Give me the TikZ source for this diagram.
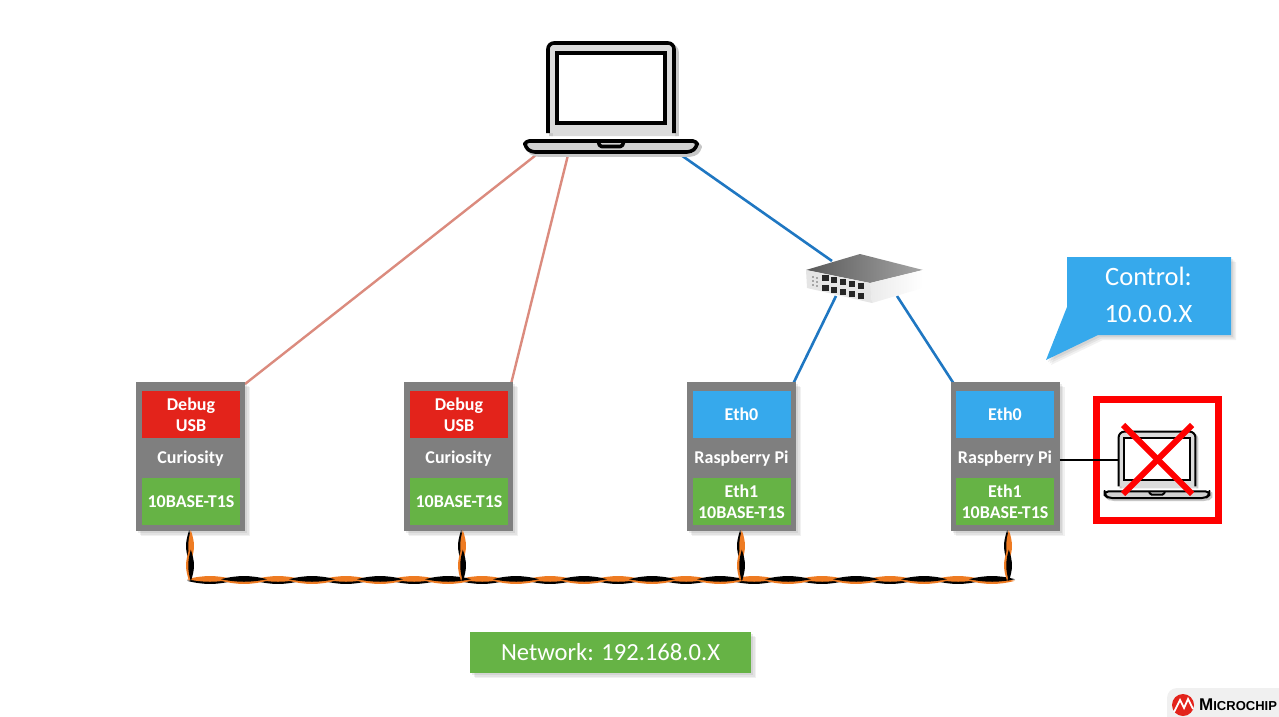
\documentclass[tikz,border=0pt]{standalone}
\usepackage{fontspec}
\setmainfont{Carlito}
\newfontfamily\logofont{Liberation Sans}
\usetikzlibrary{arrows.meta, positioning, shapes, shadows, calc, decorations.markings}

\definecolor{boardgray}{HTML}{7F7F7F}
\definecolor{usbred}{HTML}{E3231B}
\definecolor{ethblue}{HTML}{36A9EC}
\definecolor{phygreen}{HTML}{66B345}
\definecolor{linkred}{HTML}{DB8B7E}
\definecolor{linkblue}{HTML}{1F77C2}
\definecolor{twistorange}{HTML}{EE7B22}

\newcommand{\twistlens}[3]{%
  \fill[#2] (-6,.8) .. controls (#3*.3,-1.9) and (#3*.7,-1.9) .. (#3+6,.8) .. controls (#3*.7,5) and (#3*.3,5) .. (-6,.8);
  \fill[#1] (-6,-.8) .. controls (#3*.3,-5) and (#3*.7,-5) .. (#3+6,-.8) .. controls (#3*.7,2.6) and (#3*.3,2.6) .. (-6,-.8);
}

\tikzset{
  softshadow/.style={
    drop shadow={opacity=.11,shadow xshift=5pt,shadow yshift=-5pt},
    drop shadow={opacity=.13,shadow xshift=3.5pt,shadow yshift=-3.5pt},
    drop shadow={opacity=.15,shadow xshift=2pt,shadow yshift=-2pt}},
  board/.style={rectangle,fill=boardgray,minimum width=109pt,minimum height=149pt,inner sep=0pt,softshadow},
  port/.style={rectangle,minimum width=98pt,minimum height=47pt,inner sep=0pt,align=center,text=white,font=\fontsize{18}{21}\selectfont\bfseries},
  boardname/.style={text=white,inner sep=0pt,font=\fontsize{18}{19}\selectfont\bfseries},
  usblink/.style={draw=linkred,line width=2.4pt},
  lanlink/.style={draw=linkblue,line width=2.6pt},
  twist/.style 2 args={decorate,decoration={markings,
    mark=between positions 0pt and -20pt step #2pt with {\twistlens{twistorange}{black}{#1}},
    mark=between positions #1pt and -20pt step #2pt with {\twistlens{black}{twistorange}{#1}}}},
  pics/laptop/.style={code={
    % lid, open at the hinge
    \draw[pic actions,fill=black!14,rounded corners=6pt] (-63,45) -- (-63,-45) -- (63,-45) -- (63,45);
    \draw[pic actions,fill=white] (-54,-35) rectangle (54,35);
    % base with the notch
    \draw[pic actions,fill=black!18,rounded corners=4pt,line join=round] (-86,53) -- (86,53) -- (86,59) -- (80,64) -- (-80,64) -- (-86,59) -- cycle;
    \draw[pic actions,fill=none,rounded corners=1.5pt,line join=round] (-13,53) -- (-11,58.5) -- (11,58.5) -- (13,53);
  }},
}

\begin{document}
\begin{tikzpicture}[x=1pt,y=-1pt]
  \useasboundingbox (0,0) rectangle (1279,717);

  % links behind the boards
  \coordinate (lapa) at (536,155);
  \coordinate (lapb) at (568,155);
  \coordinate (lapc) at (681,155);
  \coordinate (swin) at (832,261);
  \coordinate (swa) at (836,296);
  \coordinate (swb) at (897,296);
  \coordinate (cur1up) at (245,384);
  \coordinate (cur2up) at (511,384);
  \coordinate (pi1up) at (793,384);
  \coordinate (pi2up) at (954,384);
  \draw[usblink] (lapa) -- (cur1up);
  \draw[usblink] (lapb) -- (cur2up);
  \draw[lanlink] (lapc) -- (swin);
  \draw[lanlink] (swa) -- (pi1up);
  \draw[lanlink] (swb) -- (pi2up);

  % boards
  \node (cur1) [board] at (190.5,456.5) {};
  \node (cur1usb) [port,fill=usbred] at (191,414.5) {Debug\\USB};
  \node (cur1name) [boardname] at (190.5,458.5) {Curiosity};
  \node (cur1phy) [port,fill=phygreen] at (191,501.5) {10BASE-T1S};

  \node (cur2) [board] at (458.5,456.5) {};
  \node (cur2usb) [port,fill=usbred] at (459,414.5) {Debug\\USB};
  \node (cur2name) [boardname] at (458.5,458.5) {Curiosity};
  \node (cur2phy) [port,fill=phygreen] at (459,501.5) {10BASE-T1S};

  \node (pi1) [board] at (741.5,456.5) {};
  \node (pi1eth) [port,fill=ethblue] at (741.5,414.5) {Eth0};
  \node (pi1name) [boardname] at (741.5,458.5) {Raspberry Pi};
  \node (pi1phy) [port,fill=phygreen] at (741.5,501.5) {Eth1\\10BASE-T1S};

  \node (pi2) [board] at (1005,456.5) {};
  \node (pi2eth) [port,fill=ethblue] at (1005,414.5) {Eth0};
  \node (pi2name) [boardname] at (1005,458.5) {Raspberry Pi};
  \node (pi2phy) [port,fill=phygreen] at (1005,501.5) {Eth1\\10BASE-T1S};

  % twisted pair
  \coordinate (busl) at (193,580);
  \coordinate (busm) at (462,580);
  \coordinate (busn) at (741,580);
  \coordinate (busr) at (1005,580);
  \coordinate (stubl) at (190,580);
  \coordinate (stubr) at (1008,580);
  \draw[twist={34}{68}] (busl) -- (busr);
  \foreach \brd/\bus in {cur1/stubl,cur2/busm,pi1/busn,pi2/stubr} {
    \draw[twist={19.5}{39}] ($(\bus |- \brd.south)+(0,5)$) -- (\bus);
  }

  % laptops
  \pic (hostshadow) at (614,91) [draw=black!22,line width=3.6pt] {laptop};
  \pic (hostpc) at (611,88) [draw=black,line width=3.6pt] {laptop};
  \node (netbox) [rectangle,fill=phygreen,minimum width=281pt,minimum height=41pt,text=white,font=\fontsize{24.6}{26}\selectfont,softshadow] at (610.5,652.5) {Network: 192.168.0.X};

  % switch
  \shade[left color=black!65,right color=black!35] (860,254) -- (923,270) -- (870,283) -- (806,270) -- cycle;
  \shade[left color=black!8,right color=white] (870,283) -- (923,270) -- (923,288) -- (872,303) -- cycle;
  \fill[black!10] (806,270) -- (870,283) -- (872,303) -- (807,288) -- cycle;
  \foreach \col in {0,...,4} {
    \fill[black!85] ({822+\col*8.9},{275+\col*2}) rectangle ++(6.5,6);
    \fill[black!85] ({822+\col*8.9},{285+\col*2}) rectangle ++(6.5,6);
  }
  \foreach \row in {0,1,2} {
    \fill[black!35] (812,{276+\row*4}) rectangle ++(2,2);
    \fill[black!35] (816,{277+\row*4}) rectangle ++(2,2);
  }
  \node (switch) [inner sep=0pt,minimum width=117pt,minimum height=49pt] at (865,278.5) {};

  % control callout
  \fill[ethblue,softshadow] (1067,257) -- (1231,257) -- (1231,335) -- (1098,335) -- (1046,360) -- (1067,307) -- cycle;
  \node (ctrl) [align=center,inner sep=0pt,text=white,font=\fontsize{26.5}{37}\selectfont] at (1148.5,295) {Control:\\10.0.0.X};

  % blocked laptop
  \node (blocked) [rectangle,draw=red,line width=7pt,fill=white,minimum width=122pt,minimum height=121pt] at (1157.5,460) {};
  \pic (localshadow) at (1159,461) [scale=.61,draw=black!22,line width=2pt] {laptop};
  \pic (localpc) at (1157,459) [scale=.61,draw=black,line width=2pt] {laptop};
  \coordinate (localin) at (1118,460);
  \draw[black,line width=2.4pt] (pi2.east |- localin) -- (localin);
  \draw[red,line width=6pt] (1123,425) -- (1192,494);
  \draw[red,line width=6pt] (1192,425) -- (1123,494);

  % logo
  \fill[black!6,rounded corners=10pt] (1167,688) rectangle (1300,740);
  \node (logomark) [circle,fill=usbred,minimum size=22pt,inner sep=0pt] at (1183,705) {};
  \draw[white,line width=1.8pt] (1174,712) -- (1180,700) -- (1184,708) -- (1188,699) -- (1193,709);
  \node (logotext) [anchor=west,inner sep=0pt,font=\logofont\fontsize{17}{17}\selectfont\bfseries] at (1199,705) {M\fontsize{13}{17}\selectfont ICROCHIP};
\end{tikzpicture}
\end{document}
